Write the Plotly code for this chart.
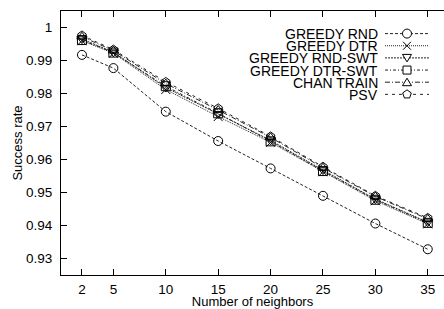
import plotly.graph_objects as go

neighbors = [2, 5, 10, 15, 20, 25, 30, 35]
greedy_rnd = [0.9917, 0.9877, 0.9745, 0.9656, 0.9573, 0.9490, 0.9406, 0.9328]
greedy_dtr = [0.9960, 0.9922, 0.9812, 0.9730, 0.9652, 0.9563, 0.9475, 0.9405]
greedy_rnd_swt = [0.9965, 0.9925, 0.9818, 0.9738, 0.9658, 0.9568, 0.9480, 0.9410]
greedy_dtr_swt = [0.9962, 0.9924, 0.9822, 0.9740, 0.9655, 0.9565, 0.9478, 0.9408]
chan_train = [0.9972, 0.9930, 0.9830, 0.9750, 0.9667, 0.9575, 0.9488, 0.9420]
psv = [0.9976, 0.9933, 0.9835, 0.9755, 0.9670, 0.9578, 0.9490, 0.9423]

series_names = ["GREEDY RND", "GREEDY DTR", "GREEDY RND-SWT", "GREEDY DTR-SWT", "CHAN TRAIN", "PSV"]
series_values = [greedy_rnd, greedy_dtr, greedy_rnd_swt, greedy_dtr_swt, chan_train, psv]
symbols = ["circle-open", "x-thin-open", "triangle-down-open", "square-open", "triangle-up-open", "pentagon-open"]
dashes = ["3px,2px", "1px,1px", "2px,1px", "3px,2px,1px,2px", "5px,2px,1px,2px", "3px,4px"]
x_ticks = [2, 5, 10, 15, 20, 25, 30, 35]
y_ticks = [0.93, 0.94, 0.95, 0.96, 0.97, 0.98, 0.99, 1.0]
y_tick_labels = ["0.93", "0.94", "0.95", "0.96", "0.97", "0.98", "0.99", "1"]

FONT = "Liberation Sans, Arial, sans-serif"
W, H = 444, 309
L, R, T, B = 61, 0, 11, 34
PW, PH = W - L - R, H - T - B

fig = go.Figure()
for name, vals, sym, dash in zip(series_names, series_values, symbols, dashes):
    fig.add_trace(go.Scatter(
        x=neighbors, y=vals, name=name, mode="lines+markers",
        line=dict(color="#222222", width=1, dash=dash),
        marker=dict(symbol=sym, size=9, color="black", line=dict(width=1, color="black")),
        showlegend=False,
    ))

# custom legend (text right-aligned, key to the right)
def px_to_paper_x(px):
    return (px - L) / PW

def px_to_paper_y(py):
    return (H - B - py) / PH

marker_paths = {
    "circle-open": None,
    "x-thin-open": "M-4,-4L4,4M-4,4L4,-4",
    "triangle-down-open": "M-4.5,3.5L4.5,3.5L0,-4Z",
    "square-open": "M-4,-4L4,-4L4,4L-4,4Z",
    "triangle-up-open": "M-4.5,-3.5L4.5,-3.5L0,4Z",
    "pentagon-open": "M0,4.5L4.3,1.4L2.6,-3.6L-2.6,-3.6L-4.3,1.4Z",
}

shapes = []
annotations = []
for i, (name, sym, dash) in enumerate(zip(series_names, symbols, dashes)):
    yc = 33.6 + i * 12.15
    annotations.append(dict(
        x=px_to_paper_x(379), y=px_to_paper_y(yc + 0.5), xref="paper", yref="paper",
        text=name, showarrow=False, xanchor="right", yanchor="middle",
        font=dict(family=FONT, size=14, color="black"), borderpad=0,
    ))
    shapes.append(dict(
        type="line", xref="paper", yref="paper",
        x0=px_to_paper_x(385), x1=px_to_paper_x(429),
        y0=px_to_paper_y(yc), y1=px_to_paper_y(yc),
        line=dict(color="#222222", width=1, dash=dash),
    ))
    xa, ya = px_to_paper_x(407), px_to_paper_y(yc)
    if sym == "circle-open":
        shapes.append(dict(
            type="circle", xref="paper", yref="paper", xsizemode="pixel", ysizemode="pixel",
            xanchor=xa, yanchor=ya, x0=-4.5, x1=4.5, y0=-4.5, y1=4.5,
            line=dict(color="black", width=1), fillcolor="white",
        ))
    else:
        shapes.append(dict(
            type="path", xref="paper", yref="paper", xsizemode="pixel", ysizemode="pixel",
            xanchor=xa, yanchor=ya, path=marker_paths[sym],
            line=dict(color="black", width=1),
            fillcolor="white" if sym != "x-thin-open" else None,
        ))

fig.update_layout(
    width=W, height=H,
    margin=dict(l=L, r=R, t=T, b=B, pad=0, autoexpand=False),
    paper_bgcolor="white", plot_bgcolor="white",
    font=dict(family=FONT, size=13.5, color="black"),
    shapes=shapes, annotations=annotations,
    showlegend=False,
)
fig.update_xaxes(
    range=[0, 36.55], tickmode="array", tickvals=x_ticks, automargin=False,
    ticks="inside", ticklen=6, tickwidth=1, tickcolor="black",
    showline=True, linecolor="black", linewidth=1, mirror="ticks",
    showgrid=False, zeroline=False, ticklabelstandoff=2,
    title=dict(text="Number of neighbors", standoff=0, font=dict(size=13)),
)
fig.update_yaxes(
    range=[0.925, 1.005], tickmode="array", tickvals=y_ticks, ticktext=y_tick_labels,
    ticks="inside", ticklen=6, tickwidth=1, tickcolor="black", automargin=False,
    showline=True, linecolor="black", linewidth=1, mirror=False,
    showgrid=False, zeroline=False, ticklabelstandoff=5,
    title=dict(text="Success rate", standoff=0, font=dict(size=13)),
)

fig.write_html(
    "out.html",
    config={"displayModeBar": False},
    post_script="document.body.style.margin='0';document.body.style.padding='0';",
)
